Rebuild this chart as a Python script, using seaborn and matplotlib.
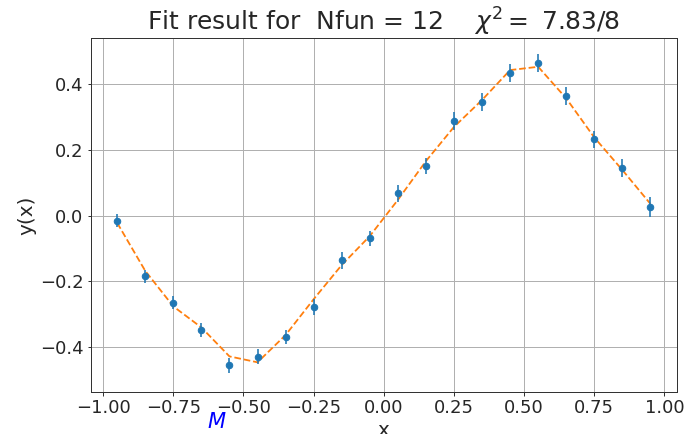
import numpy as np
import pandas as pd
import matplotlib
matplotlib.use("Agg")
import matplotlib.pyplot as plt
import seaborn as sns

# Measured data points, uncertainties and fitted curve
x_vals = [-0.95, -0.85, -0.75, -0.65, -0.55, -0.45, -0.35, -0.25, -0.15, -0.05,
          0.05, 0.15, 0.25, 0.35, 0.45, 0.55, 0.65, 0.75, 0.85, 0.95]
y_data = [-0.015, -0.184, -0.265, -0.348, -0.455, -0.429, -0.369, -0.277, -0.136, -0.069,
          0.068, 0.151, 0.289, 0.347, 0.435, 0.465, 0.364, 0.232, 0.144, 0.026]
y_err = [0.02, 0.02, 0.02, 0.022, 0.022, 0.022, 0.022, 0.025, 0.025, 0.022,
         0.025, 0.025, 0.027, 0.027, 0.027, 0.027, 0.027, 0.025, 0.027, 0.03]
y_fit = [-0.022, -0.168, -0.276, -0.340, -0.428, -0.446, -0.363, -0.254, -0.150, -0.062,
         0.048, 0.166, 0.270, 0.352, 0.443, 0.453, 0.357, 0.238, 0.139, 0.036]

n_fun = 12
chi2 = 7.83
ndf = 8

df = pd.DataFrame({"x": x_vals, "y": y_data, "err": y_err, "fit": y_fit})

sns.set_style("white")
DPI = 72
fig = plt.figure(figsize=(686 / DPI, 434 / DPI), dpi=DPI)
ax = fig.add_axes([0.132, 0.097, 0.855, 0.815])

ax.errorbar(df["x"], df["y"], yerr=df["err"], fmt="o", color="C0",
            ms=6.5, elinewidth=1.6, capsize=0, zorder=3)
sns.lineplot(data=df, x="x", y="fit", ax=ax, color="C1", linestyle="--",
             linewidth=1.8, zorder=2)

ax.grid(True, color="#b0b0b0", linewidth=1.0)
for s in ax.spines.values():
    s.set_color("#333333")
    s.set_linewidth(1.0)
ax.tick_params(axis="both", which="both", direction="out", length=3.5,
               width=1.0, labelsize=18, bottom=True, left=True, color="#333333")

ax.set_xticks([-1.0, -0.75, -0.5, -0.25, 0.0, 0.25, 0.5, 0.75, 1.0])
ax.set_yticks([-0.4, -0.2, 0.0, 0.2, 0.4])
ax.set_ylim(-0.536, 0.540)

ax.set_xlabel("x", fontsize=20)
ax.set_ylabel("y(x)", fontsize=20)
ax.set_title(f"Fit result for  Nfun = {n_fun}    $\\chi^2 = $ {chi2:.2f}/{ndf}",
             fontsize=25)

ax.text(-0.594, -0.627, "$M$", color="blue", fontsize=21, ha="center",
        va="center", clip_on=False)

fig.savefig("out.png", dpi=DPI)
